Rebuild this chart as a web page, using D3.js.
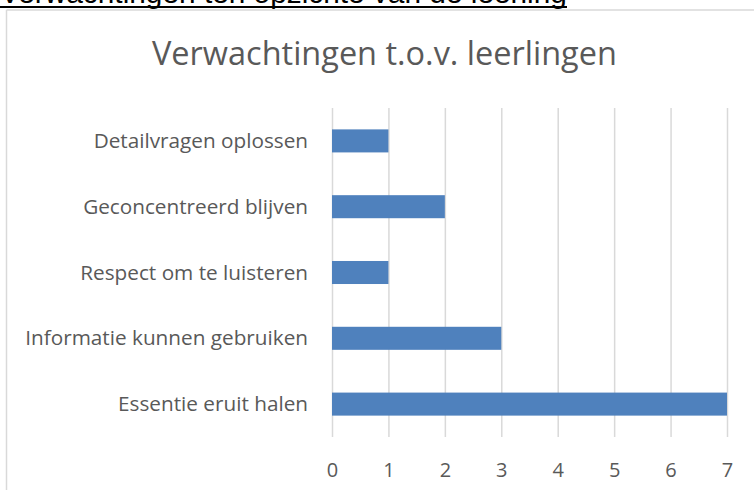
<!DOCTYPE html>
<html><head><meta charset="utf-8">
<script src="https://cdn.jsdelivr.net/npm/d3@7"></script>
<style>body{margin:0;background:#fff;} svg{display:block;}</style>
</head><body>
<script>
const categories = ["Detailvragen oplossen","Geconcentreerd blijven","Respect om te luisteren","Informatie kunnen gebruiken","Essentie eruit halen"];
const values = [1,2,1,3,7];
const ticks = [0,1,2,3,4,5,6,7];
const title = "Verwachtingen t.o.v. leerlingen";
const heading = "Verwachtingen ten opzichte van de leerling";

const W=754,H=490;
const FONT="'Open Sans', sans-serif";
const svg=d3.select("body").append("svg").attr("width",W).attr("height",H);

// cut-off heading
const ht=svg.append("text").attr("x",0).attr("y",3).attr("font-family","'Liberation Sans', Arial, sans-serif")
  .attr("font-size",30).attr("fill","#000").text(heading);
{ const w=ht.node().getComputedTextLength(); ht.attr("transform",`scale(${567/w},1)`); }
svg.append("line").attr("x1",0).attr("x2",567).attr("y1",7).attr("y2",7).attr("stroke","#000").attr("stroke-width",2);

// chart border
svg.append("line").attr("x1",6.5).attr("x2",W).attr("y1",10).attr("y2",10).attr("stroke","#d9d9d9").attr("stroke-width",1.5);
svg.append("line").attr("x1",6.5).attr("x2",6.5).attr("y1",10).attr("y2",H).attr("stroke","#d9d9d9").attr("stroke-width",1.5);

// title
const tt=svg.append("text").attr("y",65).attr("font-family",FONT).attr("font-size",32).attr("fill","#595959").text(title);
{ const w=tt.node().getComputedTextLength(); const s=465/w; tt.attr("transform",`translate(152,0) scale(${s},1)`); }

const x=d3.scaleLinear().domain([0,7]).range([332,727]);
const y=d3.scaleBand().domain(categories).range([108,437]).paddingInner(0.65).paddingOuter(0.325);

const grid=svg.append("g").attr("transform","translate(0,437)")
  .call(d3.axisBottom(x).tickValues(ticks).tickSize(-329).tickFormat(d3.format("d")));
grid.select(".domain").remove();
grid.selectAll(".tick line").attr("stroke","#d9d9d9").attr("stroke-width",1.5);
grid.selectAll(".tick text").attr("font-family",FONT).attr("font-size",20).attr("fill","#595959")
  .attr("dy",0).attr("y",40);

svg.append("g").selectAll("rect").data(values).join("rect")
  .attr("x",x(0)).attr("y",(d,i)=>y(categories[i])).attr("width",d=>x(d)-x(0)).attr("height",y.bandwidth())
  .attr("fill","#4f81bd");

// category labels
const lg=svg.append("g");
const labels=lg.selectAll("text").data(categories).join("text")
  .attr("font-family",FONT).attr("font-size",20).attr("fill","#595959").attr("text-anchor","end")
  .attr("dy","0.35em").text(d=>d);
let maxw=0; labels.each(function(){maxw=Math.max(maxw,this.getComputedTextLength());});
const sx=283/maxw;
labels.attr("transform",d=>`translate(308,${y(d)+y.bandwidth()/2}) scale(${sx},1)`);
</script>
</body></html>
